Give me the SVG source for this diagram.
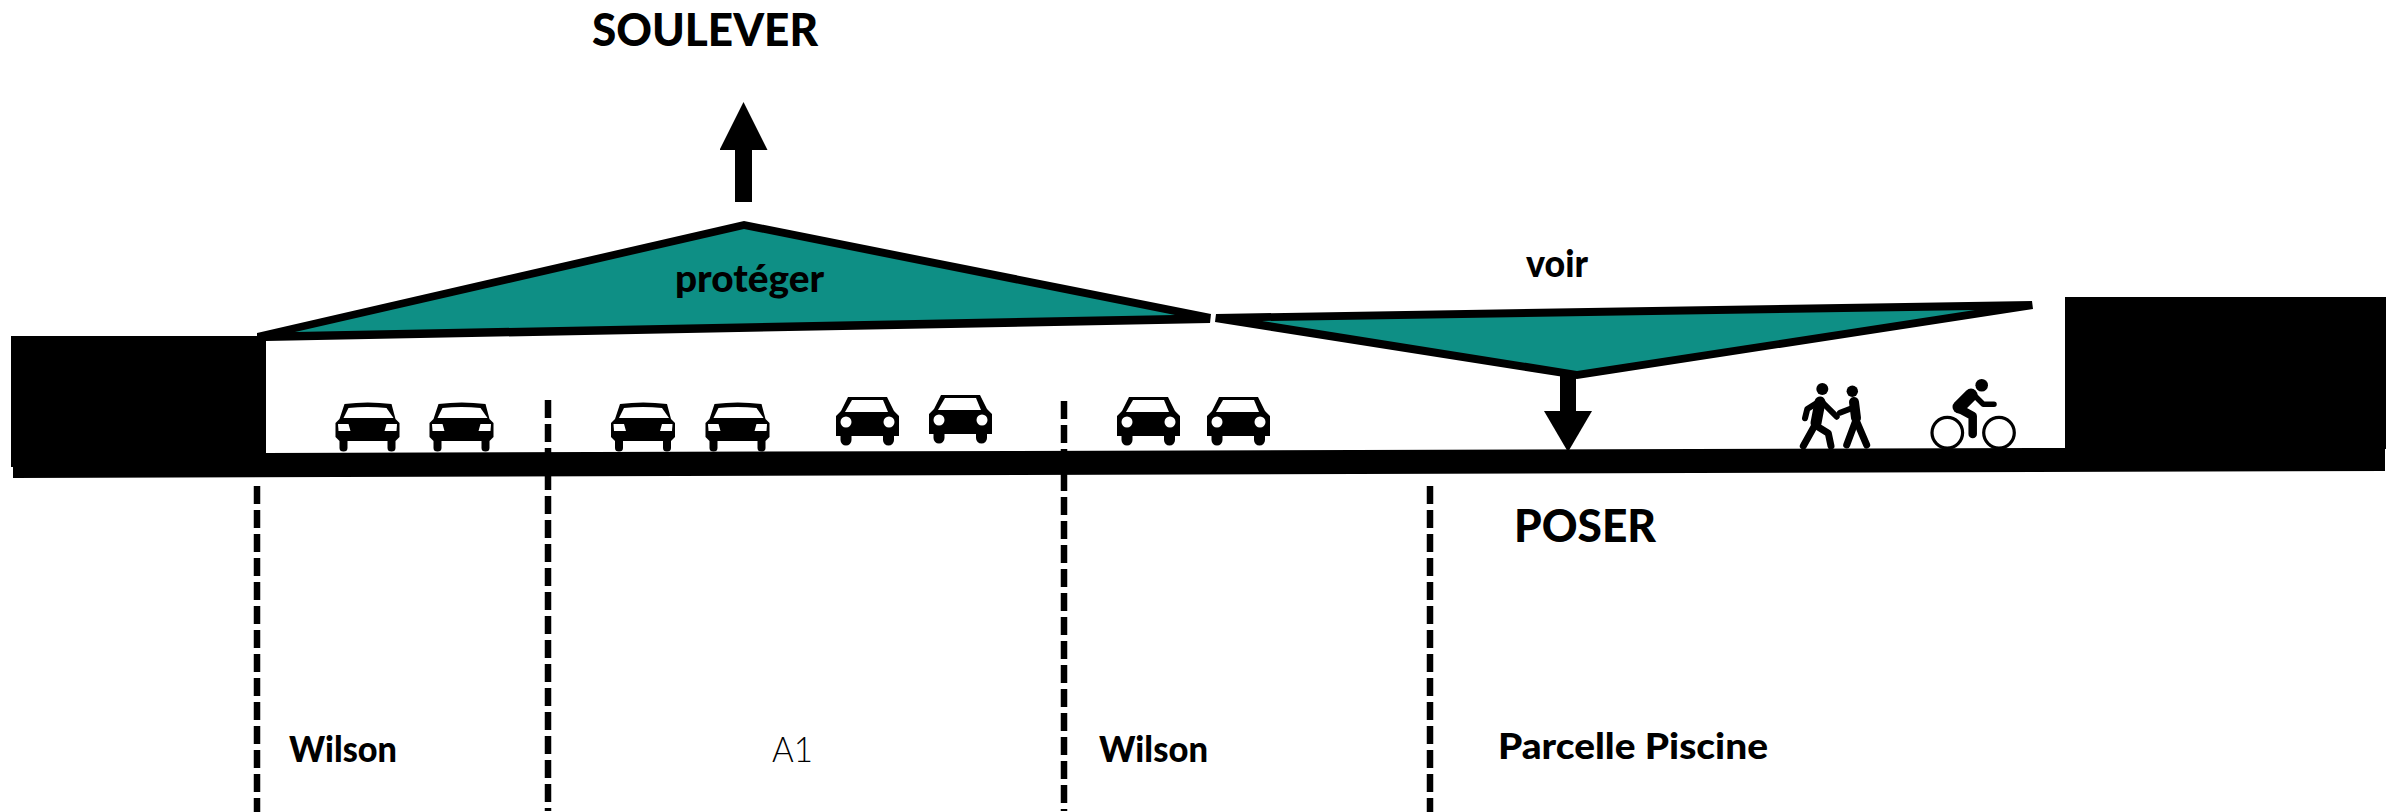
<svg xmlns="http://www.w3.org/2000/svg" width="2397" height="812" viewBox="0 0 2397 812">
<style>
.k{fill:#000}
.teal{fill:#0e8f85}
.w{fill:#fff}
.t{font-family:"Lato","Liberation Sans",sans-serif;font-weight:900;fill:#000}
.dash{stroke:#000;stroke-width:6.5;stroke-dasharray:18 6;fill:none}
.shaft{stroke:#000;fill:none}
.lim{stroke:#000;stroke-width:7;stroke-linecap:round;stroke-linejoin:round;fill:none}
.wheel{stroke:#000;stroke-width:3.2;fill:#fff}
</style>
<defs>
<marker id="headUp" markerUnits="userSpaceOnUse" markerWidth="48" markerHeight="48" refX="0" refY="24" orient="auto"><path d="M0,0 L48,24 L0,48 Z" fill="#000"/></marker>
<marker id="headDown" markerUnits="userSpaceOnUse" markerWidth="41" markerHeight="48" refX="0" refY="24" orient="auto"><path d="M0,0 L41,24 L0,48 Z" fill="#000"/></marker>
<symbol id="sedan" overflow="visible">
<path class="k" d="M9,3 Q32,0 56,3 L60,18 L64,22 V36 L60,40 V47 a4,3.5 0 0 1 -8,0 V40 H12 V47 a4,3.5 0 0 1 -8,0 V40 L0,36 V22 L4,18 Z"/>
<path class="w" d="M13,7 Q32,5 51,7 L58,17 H8 Z"/>
<path class="w" d="M2.500,23 H13 L15,30 H3 Z"/>
<path class="w" d="M61.500,23 H51 L49,30 H61 Z"/>
</symbol>
<symbol id="compact" overflow="visible">
<path class="k" d="M12,0 H51 L58,14 L63,19 V39 H58 V43 a5.500,5.500 0 0 1 -11,0 V39 H15.500 V43 a5.500,5.500 0 0 1 -11,0 V39 H0 V19 L5,14 Z"/>
<path class="w" d="M16,3 H47 L52,15 H9 Z"/>
<circle class="w" cx="10" cy="25" r="5.500"/>
<circle class="w" cx="53" cy="25" r="5.500"/>
</symbol>
</defs>
<rect width="2397" height="812" fill="#fff"/>
<g id="road">
<path class="k" d="M11,336 H266 V453 L2065,448 V297 H2386 V449 H2385 V471 L13,478 V467 H11 Z"/>
</g>
<g id="roof-proteger">
<path class="k" d="M257,333 L744,221 L1211,314 L1210,323 L266,341 L257,341 Z"/>
<path class="teal" d="M295,332 L744,229 L1175,315 Z"/>
</g>
<g id="roof-voir">
<path class="k" d="M1216,314 L2032,301 L2033,309 L1577,379 L1215,322 Z"/>
<path class="teal" d="M1262,321 L1975,310 L1577,371 Z"/>
</g>
<g id="cars">
<use href="#sedan" x="335.500" y="401"/>
<use href="#sedan" x="429.500" y="401"/>
<use href="#sedan" x="611" y="401"/>
<use href="#sedan" x="705.500" y="401"/>
<use href="#compact" x="836" y="397"/>
<use href="#compact" x="929" y="395"/>
<use href="#compact" x="1117" y="397"/>
<use href="#compact" x="1207" y="397"/>
</g>
<g id="pedestrians">
<circle class="k" cx="1822.300" cy="389" r="6"/>
<path class="lim" style="stroke-width:6" d="M1820,401 L1807.300,409 L1805,418.300"/>
<path class="lim" style="stroke-width:6" d="M1821,401 L1836.700,416.700"/>
<path class="lim" style="stroke-width:11" d="M1820,402 L1816,423"/>
<path class="lim" d="M1815,425 L1803.300,446"/>
<path class="lim" d="M1815,425 L1828.300,433.300 L1831,446"/>
<circle class="k" cx="1852.300" cy="391.300" r="5.700"/>
<path class="lim" style="stroke-width:6" d="M1851.700,408.300 L1840,412.700"/>
<path class="lim" style="stroke-width:10" d="M1854,402 L1856,418"/>
<path class="lim" d="M1856,420 L1846.700,445"/>
<path class="lim" d="M1856,420 L1866.700,445"/>
</g>
<g id="cyclist">
<circle class="wheel" cx="1947.300" cy="432.700" r="15.300"/>
<circle class="wheel" cx="1999" cy="432.700" r="15.300"/>
<circle class="k" cx="1981.700" cy="385.300" r="6.300"/>
<path class="lim" style="stroke-width:13" d="M1971,395 L1959,407"/>
<path class="lim" style="stroke-width:5.500" d="M1973,394 L1983.300,404.300 L1994,404.300"/>
<path class="lim" style="stroke-width:8.500" d="M1958,408 L1972.700,416 V434"/>
</g>
<g id="connectors">
<line class="dash" x1="257" y1="486" x2="257" y2="812"/>
<line class="dash" x1="548" y1="400" x2="548" y2="811"/>
<line class="dash" x1="1064" y1="401" x2="1064" y2="811"/>
<line class="dash" x1="1430" y1="486" x2="1430" y2="812"/>
<line class="shaft" stroke-width="17" x1="743.500" y1="202" x2="743.500" y2="150" marker-end="url(#headUp)"/>
<line class="shaft" stroke-width="16" x1="1568" y1="376" x2="1568" y2="411" marker-end="url(#headDown)"/>
</g>
<g id="labels">
<text class="t" x="592" y="46" font-size="46" textLength="226" lengthAdjust="spacingAndGlyphs">SOULEVER</text>
<text class="t" x="675" y="292" font-size="37" textLength="149" lengthAdjust="spacingAndGlyphs">protéger</text>
<text class="t" x="1526" y="277" font-size="37" textLength="62" lengthAdjust="spacingAndGlyphs">voir</text>
<text class="t" x="1514" y="542" font-size="46" textLength="142" lengthAdjust="spacingAndGlyphs">POSER</text>
<text class="t" x="289" y="762" font-size="36" textLength="108" lengthAdjust="spacingAndGlyphs">Wilson</text>
<text class="t" x="772" y="762" font-size="36" style="font-weight:300" textLength="41" lengthAdjust="spacingAndGlyphs">A1</text>
<text class="t" x="1099" y="762" font-size="36" textLength="109" lengthAdjust="spacingAndGlyphs">Wilson</text>
<text class="t" x="1498" y="759" font-size="36" textLength="270" lengthAdjust="spacingAndGlyphs">Parcelle Piscine</text>
</g>
</svg>
